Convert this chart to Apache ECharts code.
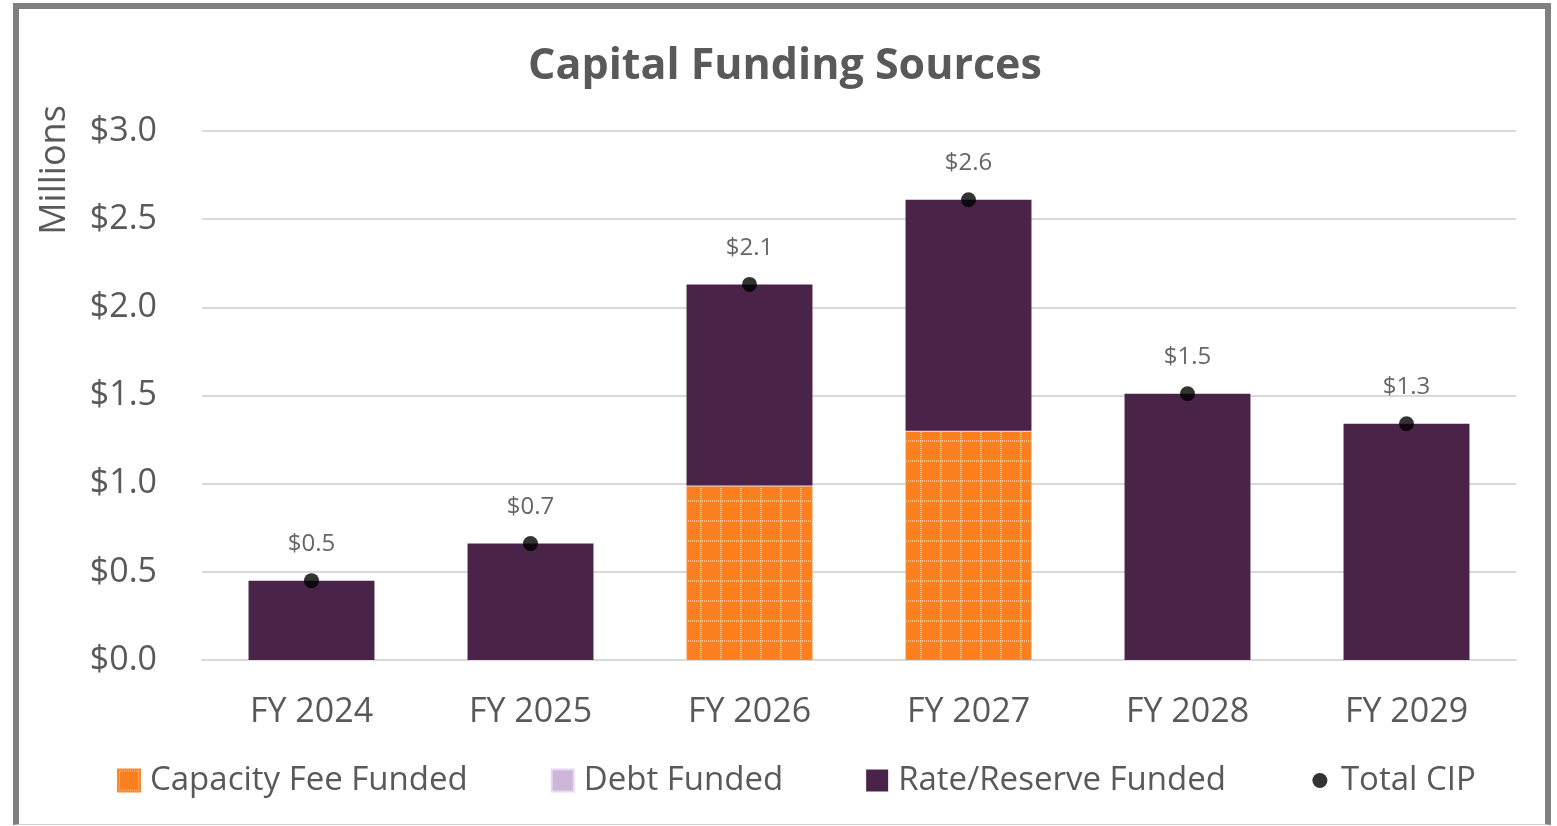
<!DOCTYPE html>
<html>
<head>
<meta charset="utf-8">
<script src="https://cdn.jsdelivr.net/npm/echarts@6/dist/echarts.min.js"></script>
<style>
  html, body { margin: 0; padding: 0; background: #fff; }
  #chart { position: absolute; left: 0; top: 0; width: 1557px; height: 826px; }
  #frame { position: absolute; left: 13px; top: 3px; width: 1526px; height: 815px;
           border: 6px solid #7f7f7f; border-bottom: 1px solid #d0d0d0; pointer-events: none; }
</style>
</head>
<body>
<div id="chart"></div>
<div id="frame"></div>
<script>
const categories = ['FY 2024', 'FY 2025', 'FY 2026', 'FY 2027', 'FY 2028', 'FY 2029'];
const capacityFee = [0, 0, 0.99, 1.30, 0, 0];
const debtFunded = [0, 0, 0, 0, 0, 0];
const rateReserve = [0.45, 0.66, 1.14, 1.31, 1.51, 1.34];
const totalCIP = [0.45, 0.66, 2.13, 2.61, 1.51, 1.34];

function makePattern() {
  const c = document.createElement('canvas');
  c.width = 20; c.height = 20;
  const g = c.getContext('2d');
  g.fillStyle = '#FA7F1F';
  g.fillRect(0, 0, 20, 20);
  g.fillStyle = '#F8BE86';
  for (let i = 0; i < 20; i += 2) {
    g.fillRect(i, 0, 1, 2);
    g.fillRect(0, i, 2, 1);
  }
  return c;
}
const pattern = { image: makePattern(), repeat: 'repeat' };

const FONT = '"Open Sans", Lato, sans-serif';
const dotIcon = 'path://M0,0L0,0M22,22L22,22M3.5,11a7.5,7.5 0 1,0 15,0a7.5,7.5 0 1,0 -15,0Z';
const chart = echarts.init(document.getElementById('chart'), null, { renderer: 'canvas' });
chart.setOption({
  backgroundColor: '#ffffff',
  animation: false,
  textStyle: { fontFamily: FONT, color: '#595959' },
  title: {
    text: 'Capital Funding Sources',
    left: 780, textAlign: 'center', top: 40,
    textStyle: { fontFamily: FONT, fontSize: 43, fontWeight: 'bold', color: '#595959' }
  },
  graphic: [{
    type: 'text', x: 55, y: 170, rotation: Math.PI / 2,
    style: { text: 'Millions', fontFamily: FONT, fontSize: 36, fill: '#595959', textAlign: 'center', textVerticalAlign: 'middle' }
  }],
  grid: { left: 202, right: 41, top: 131, bottom: 166 },
  legend: {
    bottom: 24, left: 112, itemGap: 83, itemWidth: 22, itemHeight: 22,
    textStyle: { fontFamily: FONT, fontSize: 33, color: '#595959', padding: [0, 0, 0, 5] },
    data: [
      { name: 'Capacity Fee Funded', icon: 'rect' },
      { name: 'Debt Funded', icon: 'rect' },
      { name: 'Rate/Reserve Funded', icon: 'rect' },
      { name: 'Total CIP', icon: dotIcon, itemStyle: { color: '#000' } }
    ]
  },
  xAxis: {
    type: 'category', data: categories,
    axisLine: { lineStyle: { color: '#d9d9d9', width: 2 } },
    axisTick: { show: false },
    axisLabel: { fontFamily: FONT, fontSize: 34, color: '#595959', margin: 35 }
  },
  yAxis: {
    type: 'value', min: 0, max: 3, interval: 0.5,
    axisLine: { show: false }, axisTick: { show: false },
    splitLine: { lineStyle: { color: '#d9d9d9', width: 2 } },
    axisLabel: {
      fontFamily: FONT, fontSize: 34, color: '#595959', margin: 45,
      formatter: v => '$' + v.toFixed(1)
    }
  },
  series: [
    { name: 'Capacity Fee Funded', type: 'bar', stack: 'total', data: capacityFee, barWidth: '57.5%',
      itemStyle: { color: pattern, borderColor: '#FA8A30', borderWidth: 1 } },
    { name: 'Debt Funded', type: 'bar', stack: 'total', data: debtFunded, barWidth: '57.5%',
      itemStyle: { color: '#CDB6D9', borderColor: '#E6DAEE', borderWidth: 2 } },
    { name: 'Rate/Reserve Funded', type: 'bar', stack: 'total', data: rateReserve, barWidth: '57.5%',
      itemStyle: { color: '#4A2448' } },
    { name: 'Total CIP', type: 'scatter', data: totalCIP, symbolSize: 15,
      itemStyle: { color: '#000' }, z: 10,
      label: { show: true, position: 'top', distance: 17, fontFamily: FONT, fontSize: 24, color: '#404040',
               formatter: p => '$' + p.value.toFixed(1) } }
  ]
});
</script>
</body>
</html>
